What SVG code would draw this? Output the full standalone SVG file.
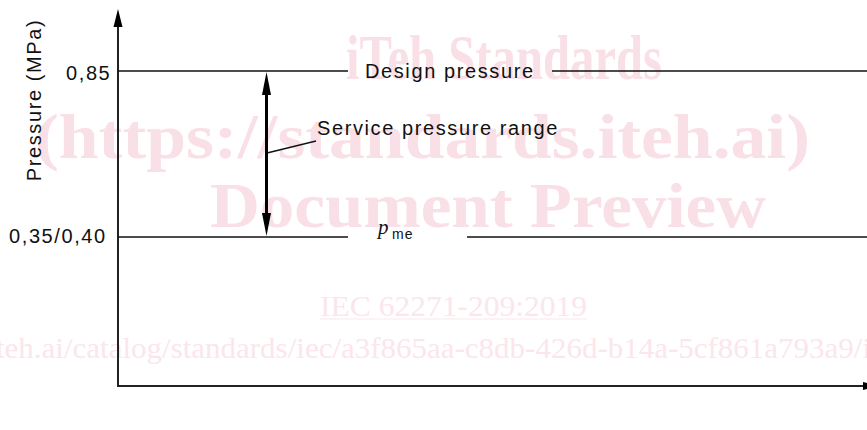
<svg xmlns="http://www.w3.org/2000/svg" width="867" height="430" viewBox="0 0 867 430">
<style>
.wm{font-family:"Liberation Serif","Times New Roman",serif;fill:#f9dfe6;}
.wmb{font-weight:bold;font-size:63px;}
.wms{font-size:30px;fill:#fbe6ec;}
.lbl{font-family:"Liberation Sans",Arial,sans-serif;font-size:20px;letter-spacing:1.6px;fill:#111;}
.thin{stroke:#111;stroke-width:1.3;fill:none;}
.axis{stroke:#222;stroke-width:2;fill:none;}
.head{fill:#000;}
</style>
<g id="watermark">
<text class="wm wmb" x="346" y="79" textLength="316" lengthAdjust="spacingAndGlyphs">iTeh Standards</text>
<text class="wm wmb" x="35" y="158" textLength="775" lengthAdjust="spacingAndGlyphs">(https://standards.iteh.ai)</text>
<text class="wm wmb" x="210" y="227" textLength="556" lengthAdjust="spacingAndGlyphs">Document Preview</text>
<text class="wm wms" x="320" y="316" textLength="267" lengthAdjust="spacingAndGlyphs">IEC 62271-209:2019</text>
<line x1="320" y1="319" x2="587" y2="319" stroke="#fbe6ec" stroke-width="1.2"/>
<text class="wm wms" x="-4" y="358" textLength="875" lengthAdjust="spacingAndGlyphs">teh.ai/catalog/standards/iec/a3f865aa-c8db-426d-b14a-5cf861a793a9/i</text>
</g>
<g id="axes">
<line class="axis" x1="118" y1="24" x2="118" y2="386"/>
<polygon class="head" points="118,9 113.5,27 122.5,27"/>
<line class="axis" x1="117" y1="386" x2="864" y2="386" stroke="#555"/>
<polygon class="head" points="863,382 880,386 863,390"/>
</g>
<g id="y-label">
<text class="lbl" transform="translate(41,100) rotate(-90)" text-anchor="middle">Pressure  (MPa)</text>
</g>
<g id="tick-085">
<text class="lbl" x="66" y="80">0,85</text>
</g>
<g id="tick-035">
<text class="lbl" x="9" y="243">0,35/0,40</text>
</g>
<g id="connectors">
<line class="thin" x1="118" y1="71" x2="348" y2="71"/>
<line class="thin" x1="552" y1="71" x2="867" y2="71"/>
<line class="thin" x1="118" y1="237" x2="348" y2="237"/>
<line class="thin" x1="467" y1="237" x2="867" y2="237"/>
<line class="thin" x1="267" y1="153" x2="316" y2="141"/>
</g>
<g id="service-range-arrow">
<line x1="266.5" y1="90" x2="266.5" y2="216" stroke="#000" stroke-width="3"/>
<polygon class="head" points="266.5,72 262,95 271,95"/>
<polygon class="head" points="266.5,236 262,213 271,213"/>
</g>
<g id="design-pressure">
<text class="lbl" x="365" y="78">Design pressure</text>
</g>
<g id="service-pressure-range">
<text class="lbl" x="317" y="135">Service pressure range</text>
</g>
<g id="pme">
<text x="378" y="234" font-family="'Liberation Serif','Times New Roman',serif" font-style="italic" font-size="21" fill="#111">p</text>
<text x="392" y="239" font-family="'Liberation Sans',Arial,sans-serif" font-size="14" letter-spacing="1.2" fill="#111">me</text>
</g>
</svg>
